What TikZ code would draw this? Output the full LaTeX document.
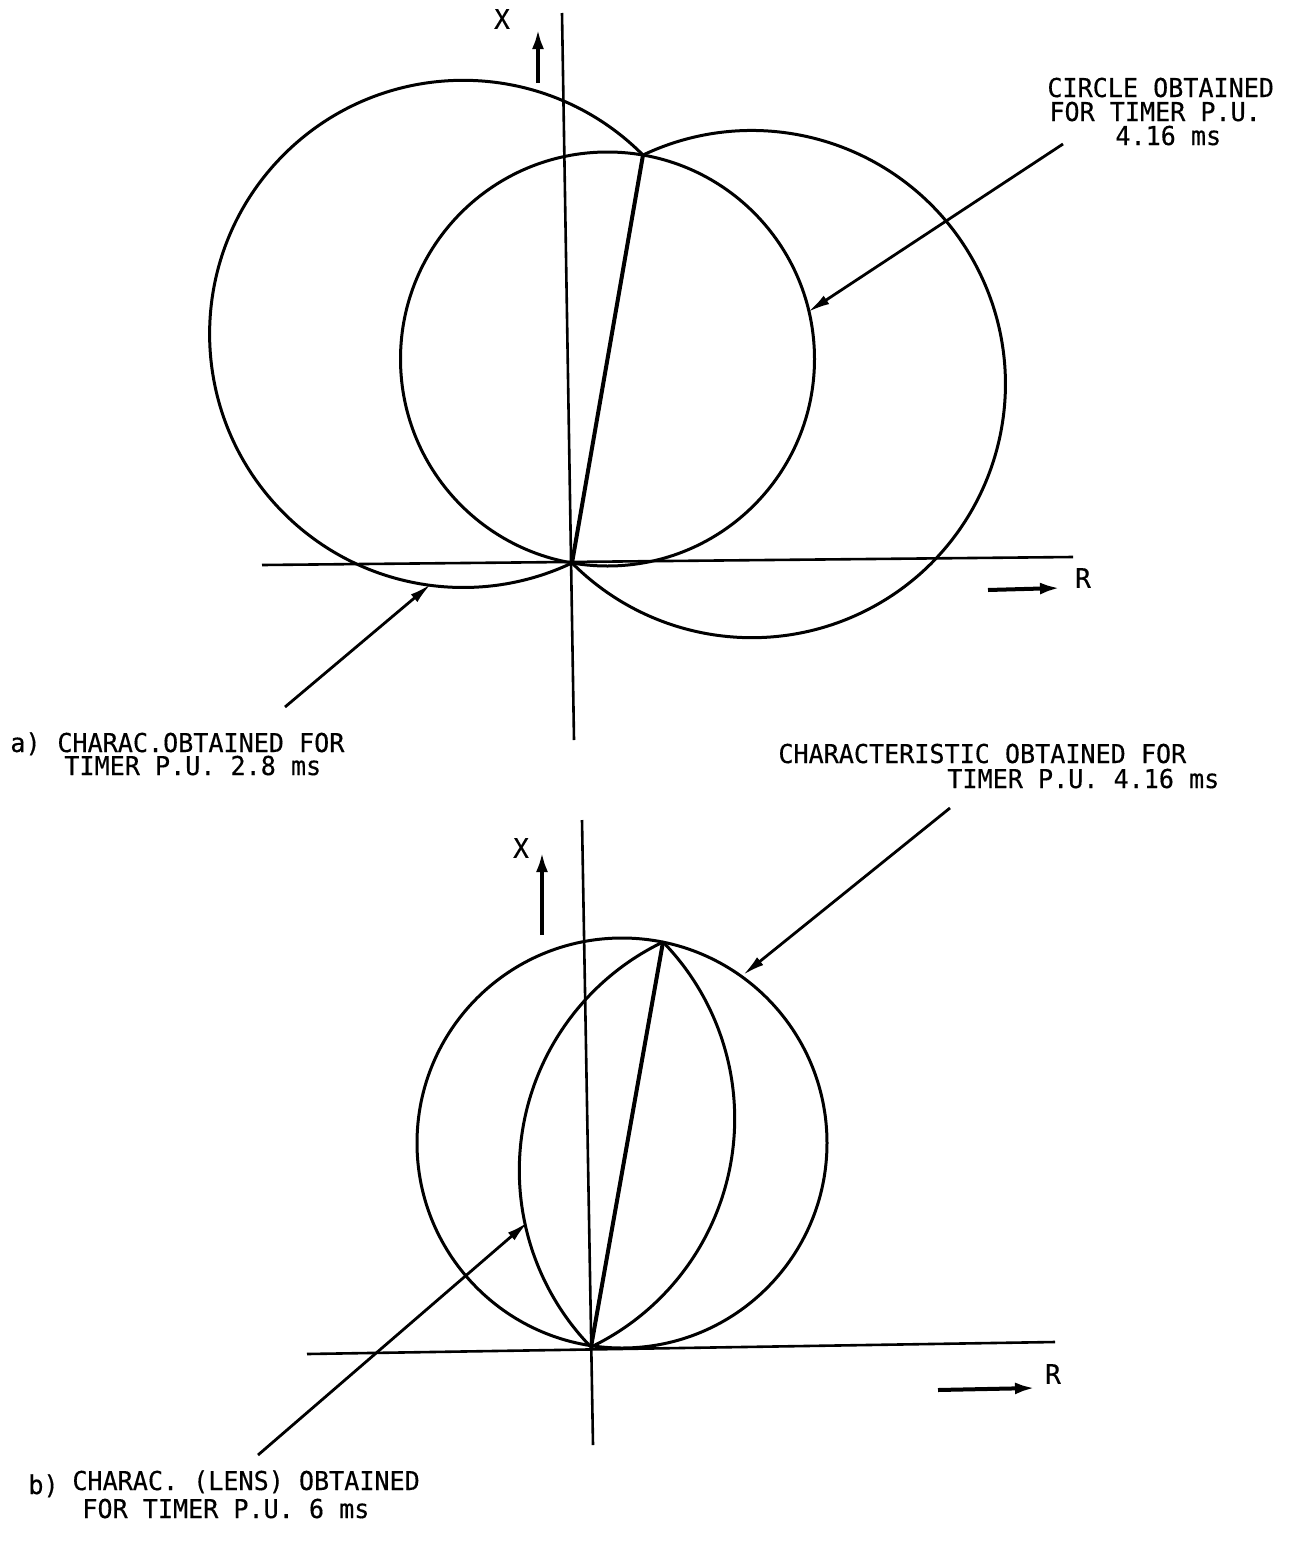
\documentclass[tikz,border=0pt]{standalone}
\usepackage{fontspec}
\setmainfont{DejaVu Sans Mono}[FakeStretch=0.965,FakeBold=0.4]
\usetikzlibrary{arrows.meta}
\begin{document}
\lineskiplimit=-20pt\relax
\begin{tikzpicture}[x=0.5pt,y=-0.5pt,
  curve/.style={line width=1.5pt},
  axis/.style={line width=1.3pt},
  chord/.style={line width=2pt},
  leader/.style={line width=1.4pt,-{Latex[length=11pt,width=5pt]}},
  dirarrow/.style={line width=2pt,-{Latex[length=10pt,width=6pt]}},
  txt/.style={font=\fontsize{13pt}{#1}\selectfont,
    inner sep=0pt, anchor=base west, align=left},
  axlbl/.style={font=\fontsize{13.5pt}{14pt}\selectfont, inner sep=0pt},
]
\useasboundingbox (0,0) rectangle (1304,1542);

% ---------------- a) ----------------
\coordinate (O1) at (572,563);
\coordinate (P1) at (643,155);
\coordinate (CM1) at (607.5,359);
\coordinate (CL1) at (463.2,333.9);
\coordinate (CR1) at (751.8,384.1);
\coordinate (VT1) at (562,13);
\coordinate (VB1) at (574,740);
\coordinate (HL1) at (262,565);
\coordinate (HR1) at (1073,557);

\draw[axis] (VT1) -- (VB1);
\draw[axis] (HL1) -- (HR1);
\draw[curve] (CM1) circle[radius=207];
\draw[curve] (CL1) ++(-44.85:253.6) arc[start angle=-44.85, end angle=-295.4, radius=253.6];
\draw[curve] (CR1) ++(-115.4:253.6) arc[start angle=-115.4, end angle=135.15, radius=253.6];
\draw[chord] (O1) -- (P1);

\coordinate (XA1s) at (538,83);
\coordinate (XA1e) at (538,29);
\draw[dirarrow] (XA1s) -- (XA1e);
\node[axlbl] (X1) at (502,19) {X};
\coordinate (RA1s) at (988,590);
\coordinate (RA1e) at (1060,588);
\draw[dirarrow] (RA1s) -- (RA1e);
\node[axlbl] (R1) at (1083,578) {R};

\node[txt=12pt] (t1) at (1047,145) {CIRCLE OBTAINED\\ \kern1pt FOR TIMER P.U.\\ \kern34pt 4.16 ms};
\coordinate (L1s) at (1063,144);
\coordinate (L1t) at (808,312);
\draw[leader] (L1s) -- (L1t);

\node[txt=12pt] (ta0) at (10,752) {a)};
\node[txt=11.5pt] (ta1) at (57,775) {CHARAC.OBTAINED FOR\\ \kern3.5pt TIMER P.U. 2.8 ms};
\coordinate (L2s) at (285,707);
\coordinate (L2t) at (431,584);
\draw[leader] (L2s) -- (L2t);

% ---------------- b) ----------------
\node[txt=12.5pt] (tc) at (778,788) {CHARACTERISTIC OBTAINED FOR\\ \kern84.5pt TIMER P.U. 4.16 ms};
\coordinate (L3s) at (950,808);
\coordinate (L3t) at (743,975);
\draw[leader] (L3s) -- (L3t);

\coordinate (O2) at (591,1347);
\coordinate (P2) at (663,942);
\coordinate (CB2) at (622,1143);
\coordinate (CLL) at (772.7,1170.4);
\coordinate (CRL) at (481.3,1118.6);
\coordinate (VT2) at (582,820);
\coordinate (VB2) at (593,1445);
\coordinate (HL2) at (307,1354);
\coordinate (HR2) at (1055,1342);

\draw[axis] (VT2) -- (VB2);
\draw[axis] (HL2) -- (HR2);
\draw[curve] (CB2) circle[radius=205];
\draw[curve] (CLL) ++(-115.65:253.4) arc[start angle=-115.65, end angle=-224.18, radius=253.4];
\draw[curve] (CRL) ++(-44.18:253.4) arc[start angle=-44.18, end angle=64.35, radius=253.4];
\draw[chord] (O2) -- (P2);

\coordinate (XA2s) at (542,935);
\coordinate (XA2e) at (542,852);
\draw[dirarrow] (XA2s) -- (XA2e);
\node[axlbl] (X2) at (521,848) {X};
\coordinate (RA2s) at (938,1390);
\coordinate (RA2e) at (1035,1388);
\draw[dirarrow] (RA2s) -- (RA2e);
\node[axlbl] (R2) at (1053,1374) {R};

\coordinate (L4s) at (258,1455);
\coordinate (L4t) at (528,1222);
\draw[leader] (L4s) -- (L4t);
\node[txt=12pt] (tb0) at (28,1494) {b)};
\node[txt=14pt] (tb1) at (72,1518) {CHARAC. (LENS) OBTAINED\\ \kern5pt FOR TIMER P.U. 6 ms};
\end{tikzpicture}
\end{document}
